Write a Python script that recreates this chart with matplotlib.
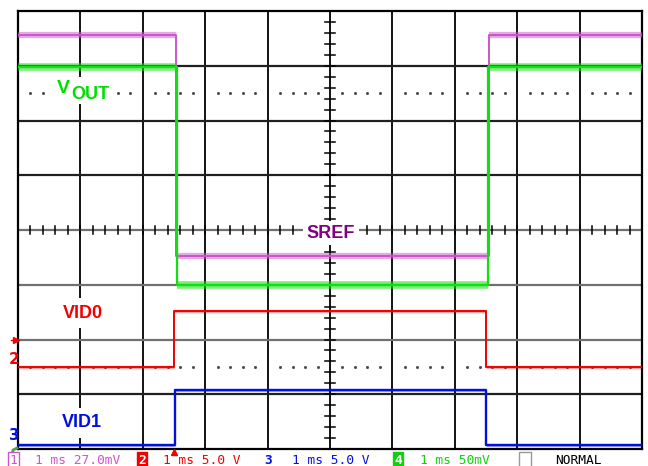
import matplotlib.pyplot as plt
from matplotlib.lines import Line2D
from matplotlib.patches import Rectangle

# screen is 10 x 8 divisions, 1 ms/div; trace levels in divisions from centre
sref_t = [0, 2.53, 2.53, 7.55, 7.55, 10]
sref_v = [3.57, 3.57, -0.47, -0.47, 3.57, 3.57]
vout_t = [0, 2.55, 2.55, 7.53, 7.53, 10]
vout_v = [2.98, 2.98, -1.00, -1.00, 2.98, 2.98]
vid0_t = [0, 2.50, 2.50, 7.50, 7.50, 10]
vid0_v = [-2.50, -2.50, -1.48, -1.48, -2.50, -2.50]
vid1_t = [0, 2.51, 2.51, 7.50, 7.50, 10]
vid1_v = [-3.93, -3.93, -2.92, -2.92, -3.93, -3.93]

# status line: channel, timebase, scale
ch_names = ['1', '2', '3', '4']
ch_time = ['1 ms', '1 ms', '1 ms', '1 ms']
ch_scale = ['27.0mV', '5.0 V', '5.0 V', '50mV']
acq_mode = 'NORMAL'

MAG = '#CC55CC'
GRN = '#10E010'
RED = '#F00000'
BLU = '#0010E0'

W, H = 648, 466
fig = plt.figure(figsize=(W / 100, H / 100), dpi=100)
ax = fig.add_axes([18 / W, 17 / H, 624 / W, 438 / H])
ax.set_xlim(0, 10)
ax.set_ylim(-4, 4)
ax.set_xticks([])
ax.set_yticks([])
for s in ax.spines.values():
    s.set_linewidth(1.6)
    s.set_color('black')


def px(x, y):
    # pixel position -> figure fraction
    return x / W, 1 - y / H


# graticule
for i in range(1, 10):
    ax.axvline(i, color='black', lw=1.3, zorder=1)
for j in range(-3, 4):
    c = '#707070' if j in (0, -1, -2) else '#202020'
    ax.axhline(j, color=c, lw=1.6, zorder=1)

# minor ticks on the centre cross
minor_x = [k * 0.2 for k in range(1, 50)]
minor_y = [k * 0.2 for k in range(-19, 20)]
for x in minor_x:
    ax.plot([x, x], [-0.07, 0.07], color='black', lw=1.1, zorder=1)
for y in minor_y:
    ax.plot([4.92, 5.08], [y, y], color='black', lw=1.1, zorder=1)

# dotted rows
dots_x = [x for x in minor_x if abs(x - round(x)) > 0.01]
for y in (2.5, -2.5):
    ax.plot(dots_x, [y] * len(dots_x), ls='none', marker='s', ms=1.0,
            color='#444444', zorder=1)

# labels
lab = dict(fontfamily='Liberation Sans', fontweight='bold', fontsize=13,
           zorder=3)
box = dict(boxstyle='square,pad=0.35', fc='white', ec='none')
ax.add_patch(Rectangle((0.55, 2.30), 0.95, 0.50, fc='white', ec='none',
                       zorder=2))
ax.text(0.63, 2.58, 'V', color='#00E000', ha='left', va='center',
        **{**lab, 'fontsize': 14})
ax.text(0.86, 2.48, 'OUT', color='#00E000', ha='left', va='center', **lab)
ax.text(4.63, -0.06, 'SREF', color='#800080', ha='left', va='center',
        bbox=dict(boxstyle='square,pad=0.2', fc='white', ec='none'), **lab)
ax.text(0.72, -1.52, 'VID0', color=RED, ha='left', va='center', bbox=box, **lab)
ax.text(0.70, -3.52, 'VID1', color=BLU, ha='left', va='center', bbox=box, **lab)

# traces (noise band drawn only on the flat parts)
traces = [(sref_t, sref_v, MAG, 4.5, 0.5, 1.4),
          (vout_t, vout_v, GRN, 5.5, 0.55, 1.6),
          (vid0_t, vid0_v, RED, 2.5, 0.35, 1.4),
          (vid1_t, vid1_v, BLU, 2.2, 0.35, 1.7)]
for t, v, c, band, a, lw in traces:
    for k in range(len(t) - 1):
        if v[k] == v[k + 1]:
            ax.plot(t[k:k + 2], v[k:k + 2], color=c, lw=band, alpha=a,
                    zorder=4, solid_capstyle='butt')
    ax.plot(t, v, color=c, lw=lw, zorder=5)

# channel markers on the left edge
fig.add_artist(Line2D(*zip(px(11, 340), px(16, 340)), color=RED, lw=1,
                      marker='>', ms=5, markevery=[1]))
fig.text(*px(14.5, 360), '2', color=RED, fontsize=11, fontweight='bold',
         ha='center', va='center', fontfamily='DejaVu Sans Condensed')
fig.text(*px(14.5, 435), '3', color=BLU, fontsize=11, fontweight='bold',
         ha='center', va='center', fontfamily='DejaVu Sans Condensed')
fig.add_artist(Line2D(*zip(px(12, 456), px(13, 450), px(17, 448)),
                      color='#50A050', lw=2))
# trigger position
fig.add_artist(Line2D(*zip(px(174, 452)), color=RED, marker='^', ms=5,
                      ls='none'))

# status line
mono = dict(fontfamily='DejaVu Sans Mono', fontsize=9.3, va='baseline')
base = 463.5
cols = [MAG, RED, BLU, '#10D010']
icon_x = [13.5, 142, 268.5, 398]
text_x = [35, 163, 292, 420]
for i in range(4):
    s = f'{ch_time[i]} {ch_scale[i]}'
    fig.text(*px(text_x[i], base), s, color=cols[i], **mono)
fig.text(*px(icon_x[0], base), ch_names[0], color=MAG, ha='center',
         bbox=dict(boxstyle='square,pad=0.1', fc='white', ec=MAG, lw=1),
         **mono)
fig.text(*px(icon_x[1], base), ch_names[1], color='white', ha='center',
         fontweight='bold',
         bbox=dict(boxstyle='square,pad=0.1', fc=RED, ec=RED, lw=1), **mono)
fig.text(*px(icon_x[2], base), ch_names[2], color=BLU, ha='center',
         fontweight='bold', **mono)
fig.text(*px(icon_x[3], base), ch_names[3], color='white', ha='center',
         fontweight='bold',
         bbox=dict(boxstyle='square,pad=0.1', fc=cols[3], ec=cols[3], lw=1),
         **mono)
fig.text(*px(525, base), ' ', ha='center',
         bbox=dict(boxstyle='square,pad=0.15', fc='white', ec='#999999',
                   lw=1), **mono)
fig.text(*px(555, base), acq_mode, color='black', **mono)

fig.savefig('out.png', dpi=100)
